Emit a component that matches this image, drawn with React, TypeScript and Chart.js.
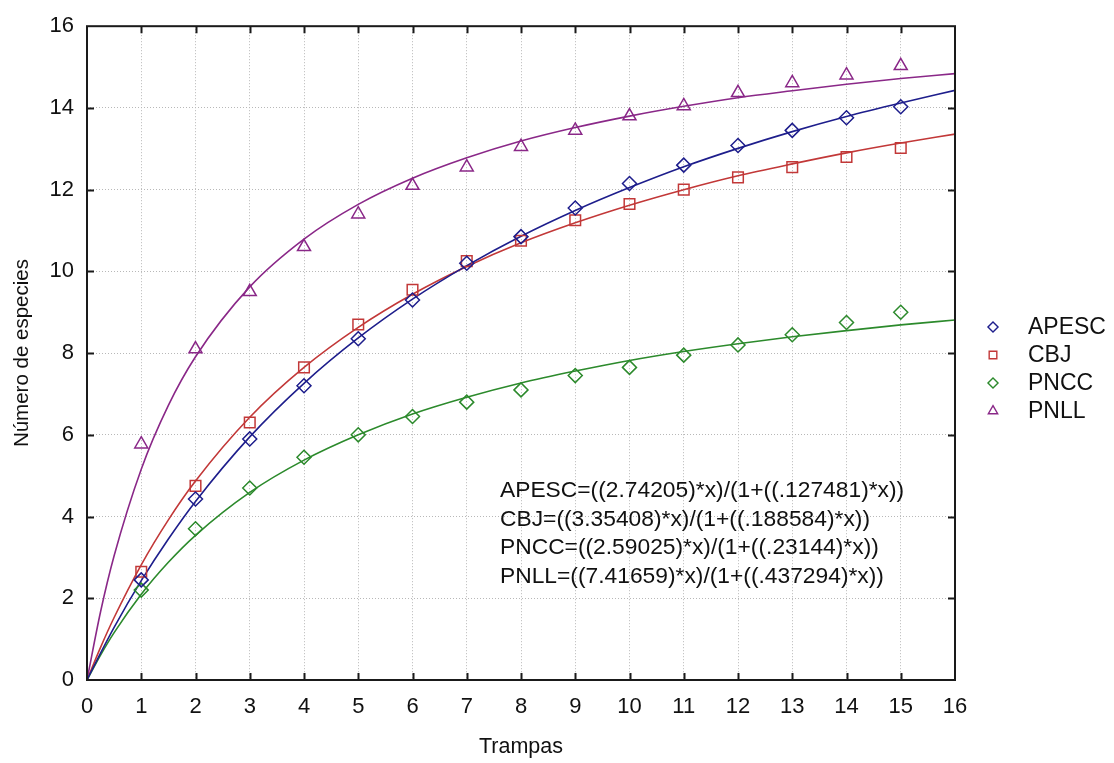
import React, { useEffect, useRef } from 'react';
import { Chart, registerables } from 'chart.js';
import { drawPoint } from 'chart.js/helpers';

Chart.register(...registerables);

// ---- data ----
const seriesNames = ['APESC', 'CBJ', 'PNCC', 'PNLL'];
const seriesColors = ['#1e1e8c', '#c23838', '#2c8a2c', '#8a2888'];
const markerStyles = ['rectRot', 'rect', 'rectRot', 'triangle'];
const markerRadii = [7, 7.5, 7, 7.5];

const trampas = [1, 2, 3, 4, 5, 6, 7, 8, 9, 10, 11, 12, 13, 14, 15];
const apescObs = [2.45, 4.43, 5.9, 7.2, 8.35, 9.3, 10.2, 10.85, 11.55, 12.15, 12.6, 13.08, 13.45, 13.76, 14.03];
const cbjObs = [2.65, 4.75, 6.3, 7.65, 8.7, 9.55, 10.25, 10.75, 11.25, 11.65, 12.0, 12.3, 12.55, 12.8, 13.02];
const pnccObs = [2.2, 3.7, 4.7, 5.45, 6.0, 6.45, 6.8, 7.1, 7.45, 7.65, 7.95, 8.2, 8.45, 8.75, 9.0];
const pnllObs = [5.77, 8.1, 9.5, 10.6, 11.4, 12.1, 12.55, 13.05, 13.45, 13.8, 14.05, 14.37, 14.61, 14.8, 15.03];

const curveX = [0, 0.25, 0.5, 1, 1.5, 2, 3, 4, 5, 6, 7, 8, 9, 10, 11, 12, 13, 14, 15, 16];
const apescCurve = [0, 0.66, 1.29, 2.43, 3.45, 4.37, 5.95, 7.26, 8.37, 9.32, 10.14, 10.86, 11.49, 12.05, 12.56, 13.01, 13.42, 13.79, 14.12, 14.43];
const cbjCurve = [0, 0.8, 1.53, 2.82, 3.92, 4.87, 6.43, 7.65, 8.63, 9.44, 10.12, 10.7, 11.19, 11.62, 12.0, 12.34, 12.63, 12.9, 13.14, 13.36];
const pnccCurve = [0, 0.61, 1.16, 2.1, 2.88, 3.54, 4.59, 5.38, 6.0, 6.51, 6.92, 7.27, 7.56, 7.82, 8.04, 8.23, 8.4, 8.55, 8.69, 8.81];
const pnllCurve = [0, 1.67, 3.04, 5.16, 6.72, 7.91, 9.62, 10.79, 11.64, 12.28, 12.78, 13.19, 13.52, 13.8, 14.04, 14.25, 14.42, 14.58, 14.72, 14.84];

const equationLabels = [
  'APESC=((2.74205)*x)/(1+((.127481)*x))',
  'CBJ=((3.35408)*x)/(1+((.188584)*x))',
  'PNCC=((2.59025)*x)/(1+((.23144)*x))',
  'PNLL=((7.41659)*x)/(1+((.437294)*x))',
];

const xTitle = 'Trampas';
const yTitle = 'Número de especies';

const FONT = "'Liberation Sans', Arial, sans-serif";

const observed = [apescObs, cbjObs, pnccObs, pnllObs];
const curves = [apescCurve, cbjCurve, pnccCurve, pnllCurve];

const framePlugin = {
  id: 'frameTicks',
  afterDatasetsDraw(chart: any) {
    const { ctx, chartArea } = chart;
    const { left, right, top, bottom } = chartArea;
    const xs = chart.scales.x;
    const ys = chart.scales.y;
    ctx.save();
    ctx.strokeStyle = '#1a1a1a';
    ctx.lineWidth = 2;
    ctx.strokeRect(left, top, right - left, bottom - top);
    const tl = 7;
    ctx.beginPath();
    for (let v = 1; v < 16; v++) {
      const px = Math.round(xs.getPixelForValue(v)) + 0.5;
      ctx.moveTo(px, bottom);
      ctx.lineTo(px, bottom - tl);
      ctx.moveTo(px, top);
      ctx.lineTo(px, top + tl);
    }
    for (let v = 2; v < 16; v += 2) {
      const py = Math.round(ys.getPixelForValue(v)) + 0.5;
      ctx.moveTo(left, py);
      ctx.lineTo(left + tl, py);
      ctx.moveTo(right, py);
      ctx.lineTo(right - tl, py);
    }
    ctx.lineWidth = 2;
    ctx.stroke();
    ctx.restore();
  },
};

const textPlugin = {
  id: 'legendEquations',
  afterDraw(chart: any) {
    const { ctx } = chart;
    ctx.save();
    // legend
    const scatterSets = chart.data.datasets.filter((d: any) => d.isObs);
    scatterSets.forEach((d: any, i: number) => {
      const y = 327 + i * 28;
      ctx.strokeStyle = d.borderColor;
      ctx.fillStyle = 'rgba(0,0,0,0)';
      ctx.lineWidth = 1.4;
      drawPoint(ctx, { pointStyle: d.pointStyle, radius: d.pointRadius * 0.72, borderWidth: 1.4, rotation: 0 } as any, 993, y);
      ctx.fillStyle = '#111';
      ctx.font = `23px ${FONT}`;
      ctx.textAlign = 'left';
      ctx.textBaseline = 'middle';
      ctx.fillText(d.label, 1028, y + 1);
    });
    // equations
    ctx.fillStyle = '#111';
    ctx.font = `22.8px ${FONT}`;
    ctx.textAlign = 'left';
    ctx.textBaseline = 'middle';
    equationLabels.forEach((t, i) => {
      ctx.fillText(t, 500, 491 + i * 28.5);
    });
    ctx.restore();
  },
};

export default function App() {
  const ref = useRef<HTMLCanvasElement>(null);
  useEffect(() => {
    if (!ref.current) return;
    const datasets: any[] = [];
    seriesNames.forEach((name, i) => {
      datasets.push({
        type: 'line',
        label: name + ' fit',
        data: curveX.map((x, j) => ({ x, y: curves[i][j] })),
        borderColor: seriesColors[i],
        borderWidth: 1.6,
        pointRadius: 0,
        fill: false,
        cubicInterpolationMode: 'monotone',
        order: 2,
      });
    });
    seriesNames.forEach((name, i) => {
      datasets.push({
        type: 'scatter',
        label: name,
        isObs: true,
        data: trampas.map((x, j) => ({ x, y: observed[i][j] })),
        borderColor: seriesColors[i],
        backgroundColor: 'rgba(0,0,0,0)',
        pointStyle: markerStyles[i],
        pointRadius: markerRadii[i],
        pointBorderWidth: 1.5,
        showLine: false,
        order: 1,
      });
    });
    const chart = new Chart(ref.current, {
      type: 'line',
      data: { datasets },
      options: {
        responsive: false,
        devicePixelRatio: 1,
        animation: false,
        layout: { padding: { left: 0, right: 159, top: 23, bottom: 0 } },
        plugins: { legend: { display: false }, tooltip: { enabled: false } },
        scales: {
          x: {
            type: 'linear',
            min: 0,
            max: 16,
            ticks: { stepSize: 1, padding: 14, color: '#111', font: { family: FONT, size: 22 } },
            grid: { color: '#b8b8b8', lineWidth: 1, drawTicks: false },
            border: { display: false, dash: [1, 2] },
            title: { display: true, text: xTitle, color: '#111', font: { family: FONT, size: 21.5 }, padding: { top: 0, bottom: 3 } },
            afterFit: (s: any) => { s.height = 83; },
          },
          y: {
            type: 'linear',
            min: 0,
            max: 16,
            ticks: { stepSize: 2, padding: 13, color: '#111', font: { family: FONT, size: 22 } },
            grid: { color: '#b8b8b8', lineWidth: 1, drawTicks: false },
            border: { display: false, dash: [1, 2] },
            title: { display: true, text: yTitle, color: '#111', font: { family: FONT, size: 20.5 }, padding: { top: 10, bottom: 0 } },
            afterFit: (s: any) => { s.width = 87; },
          },
        },
      } as any,
      plugins: [framePlugin, textPlugin],
    });
    return () => chart.destroy();
  }, []);
  return (
    <div style={{ position: 'fixed', left: 0, top: 0, width: 1114, height: 763, background: '#fff' }}>
      <canvas ref={ref} width={1114} height={763} style={{ display: 'block' }} />
    </div>
  );
}
